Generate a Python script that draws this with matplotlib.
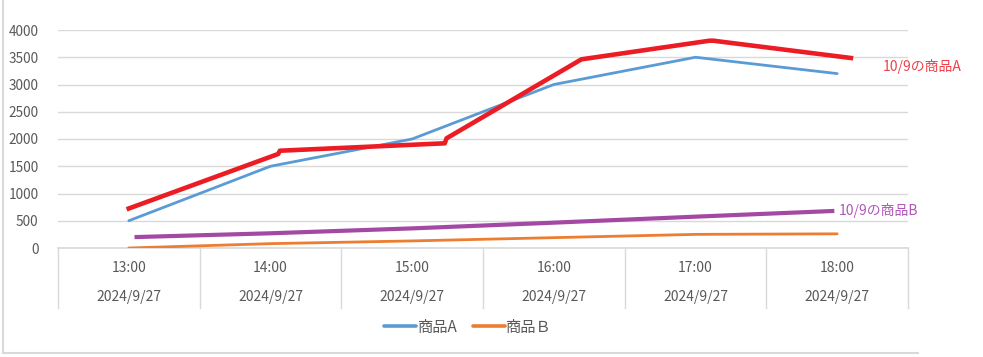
import numpy as np
import matplotlib
matplotlib.use('Agg')
from matplotlib import pyplot as plt
from matplotlib.lines import Line2D
import matplotlib.transforms as mtransforms

plt.rcParams['font.family'] = ['Noto Sans CJK JP', 'DejaVu Sans']

# data
times = ['13:00', '14:00', '15:00', '16:00', '17:00', '18:00']
dates = ['2024/9/27'] * 6
item_a = [500, 1500, 2000, 3000, 3500, 3200]
item_b = [0, 80, 130, 190, 250, 260]

# hand drawn overlays (x in category units)
red_x = [-0.016, 1.054, 1.066, 2.23, 2.243, 3.195, 4.10, 4.125, 5.113]
red_y = [710, 1725, 1785, 1921, 2013, 3462, 3804, 3804, 3481]
purple_x = [0.04, 1, 2, 3, 4, 4.98]
purple_y = [200, 270, 360, 465, 575, 680]

W, H = 983, 357
fig = plt.figure(figsize=(W / 100, H / 100), dpi=100)
ax = fig.add_axes([58 / W, 1 - 248 / H, 850 / W, 218 / H])

x = np.arange(len(times))
ax.plot(x, item_a, color='#5b9bd5', lw=2.0, solid_capstyle='round', label='商品A', zorder=3)
ax.plot(x, item_b, color='#ed7d31', lw=2.0, solid_capstyle='round', label='商品Ｂ', zorder=3)
ax.plot(red_x, red_y, color='#ec1c24', lw=3.3, solid_capstyle='butt', zorder=4)
ax.plot(purple_x, purple_y, color='#a349a4', lw=3.0, solid_capstyle='butt', zorder=4)

ax.set_xlim(-0.5, 5.5)
ax.set_ylim(0, 4000)
ax.set_yticks(np.arange(0, 4001, 500))
ax.yaxis.grid(True, color='#d9d9d9', lw=1.0)
ax.set_axisbelow(True)
for s in ax.spines.values():
    s.set_visible(False)
ax.tick_params(axis='y', length=0, pad=14, labelsize=9.8, labelcolor='#595959')
ax.set_xticks([])

# category axis with separators
trans = mtransforms.blended_transform_factory(ax.transData, ax.transAxes)
ax.add_line(Line2D([-0.5, 5.5], [0, 0], transform=trans, color='#d9d9d9', lw=1.2, clip_on=False))
for b in np.arange(-0.5, 6.0, 1.0):
    ax.add_line(Line2D([b, b], [0, -60 / 218], transform=trans, color='#d9d9d9', lw=1.0, clip_on=False))
for i in range(len(times)):
    ax.text(i, -20 / 218, times[i], transform=trans, ha='center', va='center', fontsize=10, color='#595959')
    ax.text(i, -49 / 218, dates[i], transform=trans, ha='center', va='center', fontsize=10, color='#595959')

leg = fig.legend(loc='center', bbox_to_anchor=(468 / W, 1 - 327 / H), ncol=2, frameon=False,
                 fontsize=11, handlelength=2.1, handletextpad=0.1, columnspacing=1.0, labelcolor='#595959')
for h in leg.legend_handles:
    h.set_linewidth(2.6)

# overlay labels
fig.text(883 / W, 1 - 66 / H, '10/9の商品A', color='#f0404a', fontsize=10, va='center')
fig.text(839 / W, 1 - 211 / H, '10/9の商品B', color='#b057b8', fontsize=10, va='center')

# chart frame
fig.add_artist(Line2D([3 / W, 3 / W], [1 - 353 / H, 1], transform=fig.transFigure, color='#d9d9d9', lw=1.5))
fig.add_artist(Line2D([3 / W, 918 / W], [1 - 353 / H, 1 - 353 / H], transform=fig.transFigure, color='#d9d9d9', lw=1.5))

fig.savefig('out.png', dpi=100)
